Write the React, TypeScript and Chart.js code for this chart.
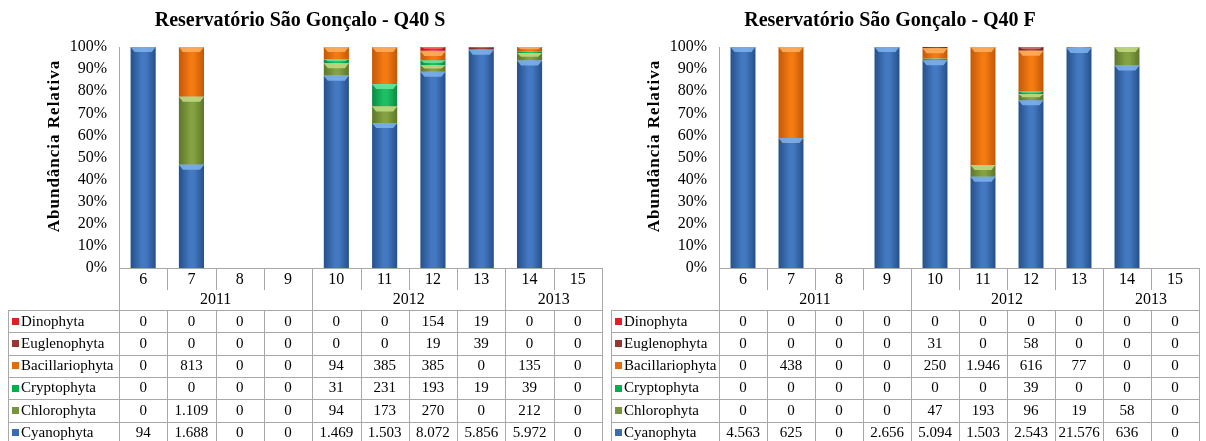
import React, { useEffect, useRef } from "react";
import { Chart, registerables } from "chart.js";
Chart.register(...registerables);

const categories = ["6", "7", "8", "9", "10", "11", "12", "13", "14", "15"];
const yearLabels = ["2011", "2012", "2013"];
const yearSpans = [4, 4, 2];
const seriesNames = ["Dinophyta", "Euglenophyta", "Bacillariophyta", "Cryptophyta", "Chlorophyta", "Cyanophyta"];

// Q40 S
const sDinophyta = [0, 0, 0, 0, 0, 0, 154, 19, 0, 0];
const sEuglenophyta = [0, 0, 0, 0, 0, 0, 19, 39, 0, 0];
const sBacillariophyta = [0, 813, 0, 0, 94, 385, 385, 0, 135, 0];
const sCryptophyta = [0, 0, 0, 0, 31, 231, 193, 19, 39, 0];
const sChlorophyta = [0, 1109, 0, 0, 94, 173, 270, 0, 212, 0];
const sCyanophyta = [94, 1688, 0, 0, 1469, 1503, 8072, 5856, 5972, 0];

// Q40 F
const fDinophyta = [0, 0, 0, 0, 0, 0, 0, 0, 0, 0];
const fEuglenophyta = [0, 0, 0, 0, 31, 0, 58, 0, 0, 0];
const fBacillariophyta = [0, 438, 0, 0, 250, 1946, 616, 77, 0, 0];
const fCryptophyta = [0, 0, 0, 0, 0, 0, 39, 0, 0, 0];
const fChlorophyta = [0, 0, 0, 0, 47, 193, 96, 19, 58, 0];
const fCyanophyta = [4563, 625, 0, 2656, 5094, 1503, 2543, 21576, 636, 0];

const centerColors = ["#ee2a2a", "#a2423f", "#f47a12", "#1cc063", "#85a142", "#4479c2"];
const edgeColors = ["#b51414", "#6c2624", "#c25806", "#0b8a42", "#5b772a", "#25508a"];
const capColors = ["#ff7070", "#c77a78", "#ffb060", "#70e8a0", "#c4dc84", "#7fb4ec"];
const swatchColors = ["#e01e25", "#953735", "#e46c0a", "#00b050", "#77933c", "#3a6db0"];

const FONT = "'Liberation Serif', 'Times New Roman', serif";
const GRID = "#a8a8a8";

function fmt(n: number): string {
  const s = String(Math.round(n));
  return s.replace(/\B(?=(\d{3})+(?!\d))/g, ".");
}

type PanelProps = {
  title: string;
  series: number[][];
  axisX: number;
  rightX: number;
  titleX: number;
  yTitleX: number;
};

const W = 603;
const H = 441;
const TOP = 47;
const XAXIS_Y = 268;
const CAT_TICK_BOTTOM = 290;
const TABLE_TOP = 310;
const ROW_H = 22.3;
const TABLE_LEFT = 8;

function Panel({ title, series, axisX, rightX, titleX, yTitleX }: PanelProps) {
  const ref = useRef<HTMLCanvasElement | null>(null);

  useEffect(() => {
    const canvas = ref.current;
    if (!canvas) return;
    const totals = categories.map((_, i) => series.reduce((a, s) => a + s[i], 0));
    const barPct = 0.52;
    const order = [5, 4, 3, 2, 1, 0];
    const datasets = order.map((k) => ({
      label: seriesNames[k],
      data: series[k].map((v, i) => (totals[i] > 0 ? (v / totals[i]) * 100 : 0)),
      backgroundColor: (ctx: any) => {
        const chart = ctx.chart;
        const xs = chart.scales && chart.scales.x;
        if (!xs || ctx.dataIndex === undefined) return centerColors[k];
        const cx = xs.getPixelForValue(ctx.dataIndex);
        const half = (xs.width / categories.length) * barPct / 2;
        if (!isFinite(cx) || !isFinite(half) || half <= 0) return centerColors[k];
        const g = chart.ctx.createLinearGradient(cx - half, 0, cx + half, 0);
        g.addColorStop(0, edgeColors[k]);
        g.addColorStop(0.45, centerColors[k]);
        g.addColorStop(0.6, centerColors[k]);
        g.addColorStop(1, edgeColors[k]);
        return g;
      },
      borderWidth: 0,
      barPercentage: barPct,
      categoryPercentage: 1,
    }));

    const capPlugin = {
      id: "capPlugin",
      afterDatasetsDraw(chart: any) {
        const c = chart.ctx as CanvasRenderingContext2D;
        c.save();
        chart.data.datasets.forEach((ds: any, di: number) => {
          const k = order[di];
          const meta = chart.getDatasetMeta(di);
          meta.data.forEach((bar: any) => {
            const h = bar.base - bar.y;
            if (!(h > 2)) return;
            const ch = Math.min(5, h * 0.5);
            const l = bar.x - bar.width / 2;
            const r = bar.x + bar.width / 2;
            const inset = Math.min(4, bar.width / 5);
            c.fillStyle = capColors[k];
            c.globalAlpha = 0.85;
            c.beginPath();
            c.moveTo(l, bar.y);
            c.lineTo(r, bar.y);
            c.lineTo(r - inset, bar.y + ch);
            c.lineTo(l + inset, bar.y + ch);
            c.closePath();
            c.fill();
          });
        });
        c.restore();
      },
    };

    const tablePlugin = {
      id: "tablePlugin",
      afterDraw(chart: any) {
        const c = chart.ctx as CanvasRenderingContext2D;
        const xs = chart.scales.x;
        const area = chart.chartArea;
        const left = area.left;
        const right = area.right;
        const cw = (right - left) / categories.length;
        const px = (v: number) => Math.round(v) + 0.5;
        c.save();
        c.fillStyle = "#000";
        c.font = `bold 20px ${FONT}`;
        c.textAlign = "center";
        c.textBaseline = "middle";
        c.fillText(title, titleX, 21);
        c.save();
        c.translate(yTitleX, 146);
        c.rotate(-Math.PI / 2);
        c.font = `bold 17px ${FONT}`;
        (c as any).letterSpacing = "1px";
        c.fillText("Abundância Relativa", 0, 0);
        c.restore();

        c.strokeStyle = GRID;
        c.lineWidth = 1;
        c.beginPath();
        c.moveTo(px(left), TOP);
        c.lineTo(px(left), H);
        c.moveTo(left, px(XAXIS_Y));
        c.lineTo(right, px(XAXIS_Y));
        c.moveTo(px(right), XAXIS_Y);
        c.lineTo(px(right), H);
        c.moveTo(px(TABLE_LEFT), TABLE_TOP);
        c.lineTo(px(TABLE_LEFT), H);
        const yearBounds: number[] = [];
        let acc = 0;
        yearSpans.forEach((s) => { acc += s; yearBounds.push(acc); });
        for (let i = 1; i < categories.length; i++) {
          const x = px(left + i * cw);
          const isYear = yearBounds.includes(i);
          c.moveTo(x, XAXIS_Y);
          c.lineTo(x, isYear ? H : CAT_TICK_BOTTOM);
          if (!isYear) {
            c.moveTo(x, TABLE_TOP);
            c.lineTo(x, H);
          }
        }
        for (let r = 0; r <= seriesNames.length; r++) {
          const y = px(TABLE_TOP + r * ROW_H);
          c.moveTo(TABLE_LEFT, y);
          c.lineTo(right, y);
        }
        c.stroke();

        c.fillStyle = "#000";
        c.font = `16px ${FONT}`;
        c.textAlign = "center";
        c.textBaseline = "middle";
        categories.forEach((lab, i) => {
          c.fillText(lab, xs.getPixelForValue(i), 280);
        });
        let start = 0;
        yearLabels.forEach((lab, j) => {
          const end = start + yearSpans[j];
          c.fillText(lab, left + ((start + end) / 2) * cw, 300);
          start = end;
        });
        c.font = `15px ${FONT}`;
        seriesNames.forEach((name, r) => {
          const cy = TABLE_TOP + r * ROW_H + ROW_H / 2 + 0.5;
          c.fillStyle = swatchColors[r];
          c.fillRect(TABLE_LEFT + 4, Math.round(cy - 4), 7, 7);
          c.fillStyle = "#000";
          c.textAlign = "left";
          c.fillText(name, TABLE_LEFT + 13, cy);
          c.textAlign = "center";
          series[r].forEach((v, i) => {
            c.fillText(fmt(v), xs.getPixelForValue(i), cy);
          });
        });
        c.restore();
      },
    };

    const chart = new Chart(canvas, {
      type: "bar",
      data: { labels: categories, datasets },
      options: {
        responsive: false,
        animation: false,
        events: [],
        layout: { padding: { left: 0, right: W - rightX, top: TOP, bottom: H - XAXIS_Y } },
        plugins: { legend: { display: false }, tooltip: { enabled: false }, title: { display: false } },
        scales: {
          x: { stacked: true, display: false, offset: true },
          y: {
            stacked: true,
            min: 0,
            max: 100,
            afterFit: (s: any) => { s.width = axisX; },
            ticks: {
              stepSize: 10,
              autoSkip: false,
              callback: (v: any) => `${v}%`,
              color: "#000",
              padding: 12,
              font: { family: FONT, size: 16 },
            },
            grid: { display: false, drawTicks: false },
            border: { display: false },
          },
        },
      },
      plugins: [capPlugin, tablePlugin],
    } as any);
    return () => chart.destroy();
  }, []);

  return <canvas ref={ref} width={W} height={H} style={{ display: "block", width: W, height: H }} />;
}

export default function App() {
  const sSeries = [sDinophyta, sEuglenophyta, sBacillariophyta, sCryptophyta, sChlorophyta, sCyanophyta];
  const fSeries = [fDinophyta, fEuglenophyta, fBacillariophyta, fCryptophyta, fChlorophyta, fCyanophyta];
  return (
    <div style={{ position: "fixed", left: 0, top: 0, width: 1206, height: 441, background: "#fff", display: "flex" }}>
      <Panel title="Reservatório São Gonçalo - Q40 S" series={sSeries} axisX={119} rightX={602} titleX={300} yTitleX={55} />
      <Panel title="Reservatório São Gonçalo - Q40 F" series={fSeries} axisX={116} rightX={596} titleX={287} yTitleX={52} />
    </div>
  );
}
